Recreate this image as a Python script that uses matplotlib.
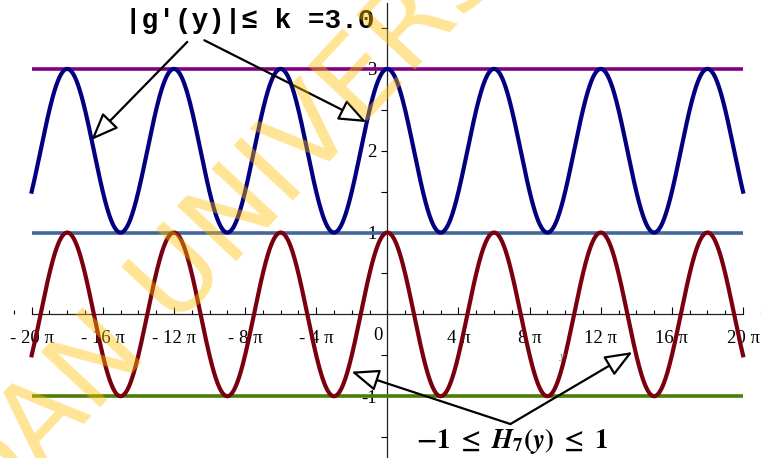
import numpy as np
import matplotlib
matplotlib.use("Agg")
import matplotlib.pyplot as plt
from matplotlib.ticker import MultipleLocator, FixedLocator

PI = np.pi

# x range of the curves (in units of pi) and the function parameters
X_RANGE_PI = (-20, 20)
FREQ = 1 / 3                    # cos(y/3)
G_OFFSET, H_OFFSET = 2.0, 0.0   # g'(y) = 2 + cos(y/3), H7(y) = cos(y/3)
AMPLITUDE = 1.0

# horizontal bound lines
BOUND_LEVELS = [3, 1, -1]
BOUND_COLORS = ["#800080", "#44679a", "#4c7d08"]

# tick labels
XTICK_PI = [-20, -16, -12, -8, -4, 4, 8, 12, 16, 20]
YTICKS = [-1, 1, 2, 3]

SERIF = ["Liberation Serif", "DejaVu Serif"]

fig = plt.figure(figsize=(7.61, 4.58), dpi=100)
ax = fig.add_axes([0, 0, 1, 1])
ax.set_xlim(-21.78 * PI, 21.01 * PI)
ax.set_ylim(-1.755, 3.842)

xs = np.linspace(X_RANGE_PI[0] * PI, X_RANGE_PI[1] * PI, 2000)
ax.plot(xs, G_OFFSET + AMPLITUDE * np.cos(FREQ * xs), color="#000080", lw=3.0, zorder=3)
ax.plot(xs, H_OFFSET + AMPLITUDE * np.cos(FREQ * xs), color="#7a0010", lw=3.0, zorder=3)

for lvl, c in zip(BOUND_LEVELS, BOUND_COLORS):
    ax.plot([X_RANGE_PI[0] * PI, X_RANGE_PI[1] * PI], [lvl, lvl], color=c, lw=2.6, zorder=2,
            solid_capstyle="butt")

# Maple-style axes crossing at the origin
for s in ["top", "right"]:
    ax.spines[s].set_visible(False)
ax.spines["left"].set_position(("data", 0))
ax.spines["bottom"].set_position(("data", 0))
ax.spines["bottom"].set_bounds(X_RANGE_PI[0] * PI, X_RANGE_PI[1] * PI)
ax.spines["left"].set_bounds(-1.8, 3.8)
for s in ["left", "bottom"]:
    ax.spines[s].set_linewidth(0.9)
    ax.spines[s].set_color("#222222")
    ax.spines[s].set_zorder(1)

ax.set_xticks([t * PI for t in XTICK_PI])
ax.set_xticklabels([f"- {abs(t)} π" if t < 0 else f"{t} π" for t in XTICK_PI],
                   family=SERIF, fontsize=13.5)
ax.xaxis.set_minor_locator(MultipleLocator(PI))
ax.tick_params(axis="x", which="major", direction="in", length=5, width=0.8, pad=11)
ax.tick_params(axis="x", which="minor", direction="in", length=3, width=0.8)

ax.set_yticks(YTICKS)
ax.set_yticklabels([f"-{abs(t)}" if t < 0 else str(t) for t in YTICKS],
                   family=SERIF, fontsize=13.5)
ax.yaxis.set_minor_locator(FixedLocator([-1.5, -0.5, 0.5, 1.5, 2.5, 3.5]))
ax.tick_params(axis="y", which="both", direction="out", length=4.5, width=0.8, pad=3)

ax.annotate("0", xy=(0, 0), xytext=(-7, -9), textcoords="offset points",
            ha="center", va="top", family=SERIF, fontsize=13.5)
ax.text(9.84 * PI, -0.52, "y", family=SERIF, style="italic", fontsize=8,
        color="#777777", ha="center", va="center")

# annotations
head = dict(arrowstyle="-|>,head_length=0.85,head_width=0.34", mutation_scale=20,
            fc="white", ec="black", lw=1.6, shrinkA=0, shrinkB=0)
ax.text(-7.76 * PI, 3.59, "|g'(y)|≤ k =3.0", ha="center", va="center",
        family=["Liberation Mono", "DejaVu Sans Mono"], fontweight="bold",
        fontsize=20, zorder=6)
ax.annotate("", xy=(-16.65 * PI, 2.13), xytext=(-11.25 * PI, 3.33),
            arrowprops=head, zorder=6)
ax.annotate("", xy=(-1.18 * PI, 2.35), xytext=(-10.29 * PI, 3.35),
            arrowprops=head, zorder=6)

plt.rcParams["mathtext.fontset"] = "stix"
ax.text(7.03 * PI, -1.55,
        r"$\mathbf{-1\ \leq}\ \mathbfit{H}_{\mathbf{7}}\mathbf{(}\mathbfit{y}\mathbf{)}\ \mathbf{\leq\ 1}$",
        ha="center", va="center", fontsize=19.5, zorder=6)
ax.annotate("", xy=(-2.02 * PI, -0.70), xytext=(6.92 * PI, -1.34),
            arrowprops=head, zorder=6)
ax.annotate("", xy=(13.78 * PI, -0.46), xytext=(6.92 * PI, -1.34),
            arrowprops=head, zorder=6)

# watermark
fig.text(-0.02, -0.16, "DAN UNIVERSITY", fontsize=80, color="#ffc000", alpha=0.42,
         rotation=47, rotation_mode="anchor", ha="left", va="baseline", zorder=10)

fig.savefig("out.png", dpi=100, facecolor="white")
